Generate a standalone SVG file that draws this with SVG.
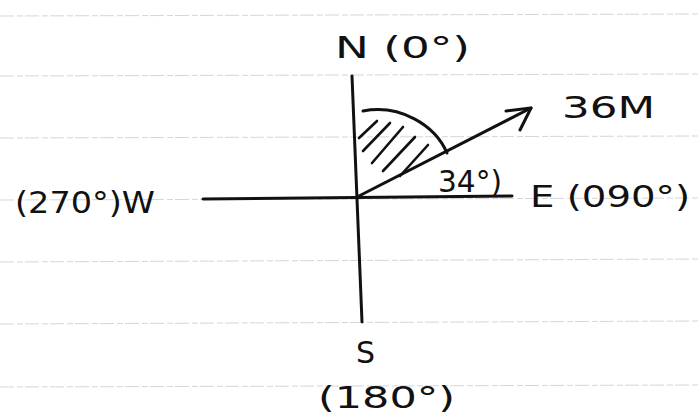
<svg xmlns="http://www.w3.org/2000/svg" width="700" height="420" viewBox="0 0 700 420">
<style>
.rule{stroke:#d6d6d6;stroke-width:1;stroke-dasharray:14 3 6 2}
.ink{stroke:#111;stroke-width:3;fill:none;stroke-linecap:round;stroke-linejoin:round}
.hatch{stroke:#111;stroke-width:2.6;fill:none;stroke-linecap:round}
.lbl{font-family:"DejaVu Sans","Liberation Sans",sans-serif;fill:#111;font-size:30px}
</style>
<rect width="700" height="420" fill="#fff"/>
<g id="rules">
<line class="rule" x1="0" y1="16" x2="700" y2="14"/>
<line class="rule" x1="0" y1="76" x2="700" y2="74"/>
<line class="rule" x1="0" y1="138" x2="700" y2="136"/>
<line class="rule" x1="0" y1="200" x2="700" y2="198"/>
<line class="rule" x1="0" y1="262" x2="700" y2="259"/>
<line class="rule" x1="0" y1="324" x2="700" y2="321"/>
<line class="rule" x1="0" y1="387" x2="700" y2="385"/>
</g>
<g id="connectors">
<line class="ink" x1="352" y1="76" x2="362" y2="322"/>
<line class="ink" x1="203" y1="199" x2="512" y2="196"/>
<line class="ink" x1="357" y1="197" x2="531" y2="108"/>
<polyline class="ink" points="506,111 531,108 520,130"/>
</g>
<g id="angle">
<path class="ink" d="M363,111 C400,104 435,125 447,153"/>
<line class="hatch" x1="377" y1="121" x2="359" y2="138"/>
<line class="hatch" x1="390" y1="123" x2="363" y2="151"/>
<line class="hatch" x1="403" y1="127" x2="372" y2="163"/>
<line class="hatch" x1="415" y1="137" x2="383" y2="171"/>
<line class="hatch" x1="428" y1="145" x2="400" y2="176"/>
<text class="lbl" x="438" y="192" font-size="31" textLength="64" lengthAdjust="spacingAndGlyphs">34°)</text>
</g>
<g id="north"><text class="lbl" x="335" y="58" font-size="32" textLength="135" lengthAdjust="spacingAndGlyphs">N (0°)</text></g>
<g id="east"><text class="lbl" x="530" y="207" font-size="32" textLength="160" lengthAdjust="spacingAndGlyphs">E (090°)</text></g>
<g id="south"><text class="lbl" x="356" y="363">S</text><text class="lbl" x="318" y="408" font-size="32" textLength="137" lengthAdjust="spacingAndGlyphs">(180°)</text></g>
<g id="west"><text class="lbl" x="15" y="213" font-size="32" textLength="140" lengthAdjust="spacingAndGlyphs">(270°)W</text></g>
<g id="magnitude"><text class="lbl" x="562" y="118" font-size="36" textLength="93" lengthAdjust="spacingAndGlyphs">36M</text></g>
</svg>
